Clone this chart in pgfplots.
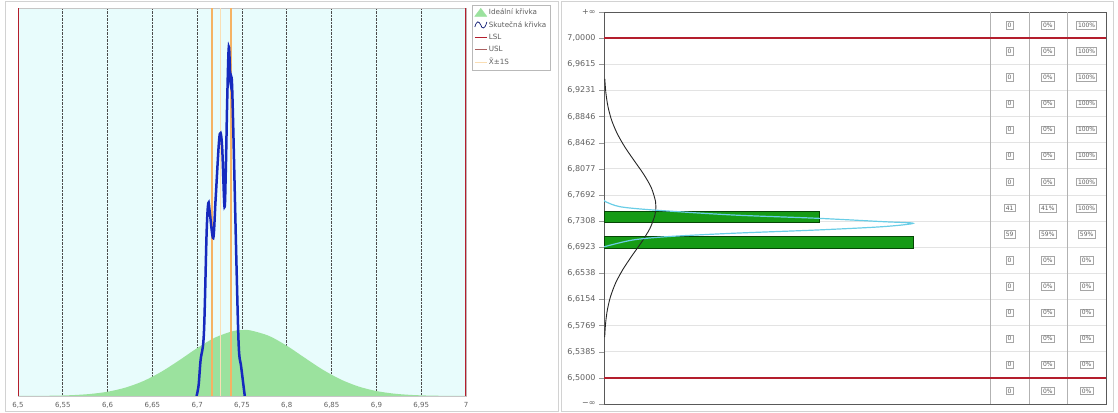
\documentclass[border=0pt]{standalone}
\usepackage{pgfplots}
\pgfplotsset{compat=1.18}
\usepackage{fontspec}
\setmainfont{DejaVu Sans}
\definecolor{bgcyan}{RGB}{232,252,252}
\definecolor{idealgreen}{RGB}{155,226,158}
\definecolor{realblue}{RGB}{22,42,190}
\definecolor{lslred}{RGB}{180,30,45}
\definecolor{uslred}{RGB}{170,95,95}
\definecolor{sorange}{RGB}{245,178,100}
\definecolor{sorangel}{RGB}{250,222,180}
\definecolor{bargreen}{RGB}{22,155,22}
\definecolor{bardark}{RGB}{5,70,5}
\definecolor{cyanline}{RGB}{105,205,230}
\definecolor{labgray}{RGB}{95,95,95}
\begin{document}
\begin{tikzpicture}
\useasboundingbox (0pt,0pt) rectangle (1118pt,412pt);
\draw[gray!35] (5pt,1pt) rectangle (558pt,411pt);
\draw[gray!35] (561pt,1pt) rectangle (1113pt,411pt);
% ---------------- left panel ----------------
\begin{axis}[
  at={(18pt,16pt)}, anchor=south west, scale only axis,
  width=448pt, height=388pt,
  xmin=6.5, xmax=7, ymin=0, ymax=388,
  axis background/.style={fill=bgcyan},
  axis line style={gray!45},
  xtick={6.5,6.55,6.6,6.65,6.7,6.75,6.8,6.85,6.9,6.95,7},
  xticklabels={{6,5},{6,55},{6,6},{6,65},{6,7},{6,75},{6,8},{6,85},{6,9},{6,95},{7}},
  ytick=\empty,
  xmajorgrids, major grid style={black!70, densely dotted, line width=0.8pt},
  major tick length=0pt,
  xticklabel style={font=\fontsize{7}{8}\selectfont, text=labgray, yshift=-2.5pt},
  /pgf/number format/assume math mode=true,
  legend style={at={(1.0134,1.0077)}, anchor=north west, draw=gray!55,
    font=\fontsize{7.2}{8}\selectfont, text=labgray, row sep=2.2pt, inner sep=2pt,
    nodes={inner sep=1.5pt}},
  legend cell align=left,
]
\addlegendimage{legend image code/.code={\fill[idealgreen] (0pt,-4pt) -- (6pt,4pt) -- (12pt,-4pt) -- cycle;}}
\addlegendentry{Ideální křivka}
\addlegendimage{legend image code/.code={\draw[realblue!60!black, line width=0.7pt] (0pt,-2pt) .. controls (2pt,5pt) and (4pt,4pt) .. (6pt,0pt) .. controls (7pt,-4pt) and (10pt,-5pt) .. (12pt,3pt);}}
\addlegendentry{Skutečná křivka}
\addlegendimage{legend image code/.code={\draw[lslred, line width=1.2pt] (0pt,0pt) -- (12pt,0pt);}}
\addlegendentry{LSL}
\addlegendimage{legend image code/.code={\draw[uslred, line width=1.2pt] (0pt,0pt) -- (12pt,0pt);}}
\addlegendentry{USL}
\addlegendimage{legend image code/.code={\draw[sorangel, line width=1.2pt] (0pt,0pt) -- (12pt,0pt);}}
\addlegendentry{\={X}±1S}
% ideal curve
\addplot[fill=idealgreen, draw=none, smooth, forget plot] coordinates {
 (6.50,0.04) (6.52,0.11) (6.54,0.32) (6.56,0.84) (6.58,1.99) (6.60,4.28)
 (6.62,8.40) (6.64,14.96) (6.66,24.24) (6.68,35.73) (6.70,47.92) (6.72,58.47)
 (6.74,64.89) (6.752,66) (6.76,65.50) (6.78,60.15) (6.80,50.25) (6.82,38.19)
 (6.84,26.39) (6.86,16.60) (6.88,9.50) (6.90,4.94) (6.92,2.34) (6.94,1.01)
 (6.96,0.39) (6.98,0.14) (7.00,0.05)} \closedcycle;
% sigma lines
\addplot[sorangel, line width=1pt, forget plot] coordinates {(6.7265,0) (6.7265,388)};
\addplot[sorange, line width=2pt, forget plot] coordinates {(6.7160,0) (6.7160,388)};
\addplot[sorange, line width=2pt, forget plot] coordinates {(6.7372,0) (6.7372,388)};
% actual curve
\addplot[realblue, line width=2.5pt, smooth, tension=0.55, forget plot] coordinates {
 (6.6993,0) (6.7016,11) (6.7038,36) (6.7075,63) (6.7105,163) (6.7124,193)
 (6.7141,183) (6.7179,158) (6.7205,196) (6.7242,253) (6.7261,263) (6.7280,246)
 (6.7305,189) (6.7320,229) (6.7335,296) (6.7353,349) (6.7372,313) (6.7391,306)
 (6.7439,129) (6.7464,49) (6.7491,29) (6.7531,0)};
% limits
\addplot[lslred, line width=1.6pt, forget plot] coordinates {(6.5,0) (6.5,388)};
\addplot[lslred, line width=1.6pt, forget plot] coordinates {(7,0) (7,388)};
\end{axis}
% ---------------- right panel ----------------
\begin{axis}[
  at={(604pt,8pt)}, anchor=south west, scale only axis,
  width=502pt, height=392pt,
  xmin=0, xmax=95.8, ymin=6.4615, ymax=7.0385,
  xtick=\empty,
  ytick={6.4615,6.5,6.5385,6.5769,6.6154,6.6538,6.6923,6.7308,6.7692,6.8077,6.8462,6.8846,6.9231,6.9615,7.0,7.0385},
  yticklabels={{−∞},{6,5000},{6,5385},{6,5769},{6,6154},{6,6538},{6,6923},{6,7308},{6,7692},{6,8077},{6,8462},{6,8846},{6,9231},{6,9615},{7,0000},{+∞}},
  ymajorgrids, major grid style={gray!22, line width=0.6pt},
  axis line style={black!65},
  tick style={gray!80}, major tick length=5pt, tick align=outside,
  ytick pos=left,
  yticklabel style={font=\fontsize{8}{9}\selectfont, text=labgray},
  /pgf/number format/assume math mode=true,
  nodes near coords style={anchor=center, draw=gray!70, inner sep=1.5pt,
     font=\fontsize{6}{6}\selectfont, text=labgray},
]
% table column separators
\addplot[gray!60, line width=0.6pt] coordinates {(73.66,6.4615) (73.66,7.0385)};
\addplot[gray!60, line width=0.6pt] coordinates {(81.1,6.4615) (81.1,7.0385)};
\addplot[gray!60, line width=0.6pt] coordinates {(88.36,6.4615) (88.36,7.0385)};
% bars
\addplot[xbar, bar width=0.0172, fill=bargreen, draw=bardark, line width=0.7pt]
  coordinates {(41,6.7368) (59,6.6993)};
% ideal curve
\addplot[black!85, line width=0.9pt, smooth] coordinates {
 (0.126,6.56) (0.30,6.58) (0.64,6.60) (1.26,6.62) (2.24,6.64) (3.64,6.66)
 (5.36,6.68) (7.19,6.70) (8.77,6.72) (9.73,6.74) (9.9,6.752) (9.83,6.76)
 (9.02,6.78) (7.54,6.80) (5.73,6.82) (3.96,6.84) (2.49,6.86) (1.42,6.88)
 (0.74,6.90) (0.35,6.92) (0.15,6.94)};
% actual curve
\addplot[cyanline, line width=1.2pt, smooth, tension=0.5] coordinates {
 (0,6.7620) (0.3,6.7593) (3.05,6.7519) (9.35,6.7471) (24.6,6.7397) (40.6,6.7349)
 (53.2,6.7299) (59.0,6.7275) (53.2,6.7225) (40.6,6.7176) (24.6,6.7128)
 (12.0,6.7078) (5.5,6.7029) (0.3,6.6935) (0,6.6920)};
% limits
\addplot[lslred, line width=1.6pt] coordinates {(0,7.0) (95.8,7.0)};
\addplot[lslred, line width=1.6pt] coordinates {(0,6.5) (95.8,6.5)};
% table values
\addplot[draw=none, mark=none, nodes near coords, point meta=explicit symbolic] coordinates {
 (77.4,6.4808) [0] (77.4,6.5192) [0] (77.4,6.5577) [0] (77.4,6.5962) [0]
 (77.4,6.6346) [0] (77.4,6.6731) [0] (77.4,6.7115) [59] (77.4,6.7500) [41]
 (77.4,6.7885) [0] (77.4,6.8269) [0] (77.4,6.8654) [0] (77.4,6.9038) [0]
 (77.4,6.9423) [0] (77.4,6.9808) [0] (77.4,7.0192) [0]};
\addplot[draw=none, mark=none, nodes near coords, point meta=explicit symbolic] coordinates {
 (84.7,6.4808) [0\%] (84.7,6.5192) [0\%] (84.7,6.5577) [0\%] (84.7,6.5962) [0\%]
 (84.7,6.6346) [0\%] (84.7,6.6731) [0\%] (84.7,6.7115) [59\%] (84.7,6.7500) [41\%]
 (84.7,6.7885) [0\%] (84.7,6.8269) [0\%] (84.7,6.8654) [0\%] (84.7,6.9038) [0\%]
 (84.7,6.9423) [0\%] (84.7,6.9808) [0\%] (84.7,7.0192) [0\%]};
\addplot[draw=none, mark=none, nodes near coords, point meta=explicit symbolic] coordinates {
 (92.1,6.4808) [0\%] (92.1,6.5192) [0\%] (92.1,6.5577) [0\%] (92.1,6.5962) [0\%]
 (92.1,6.6346) [0\%] (92.1,6.6731) [0\%] (92.1,6.7115) [59\%] (92.1,6.7500) [100\%]
 (92.1,6.7885) [100\%] (92.1,6.8269) [100\%] (92.1,6.8654) [100\%] (92.1,6.9038) [100\%]
 (92.1,6.9423) [100\%] (92.1,6.9808) [100\%] (92.1,7.0192) [100\%]};
\end{axis}
\end{tikzpicture}
\end{document}
